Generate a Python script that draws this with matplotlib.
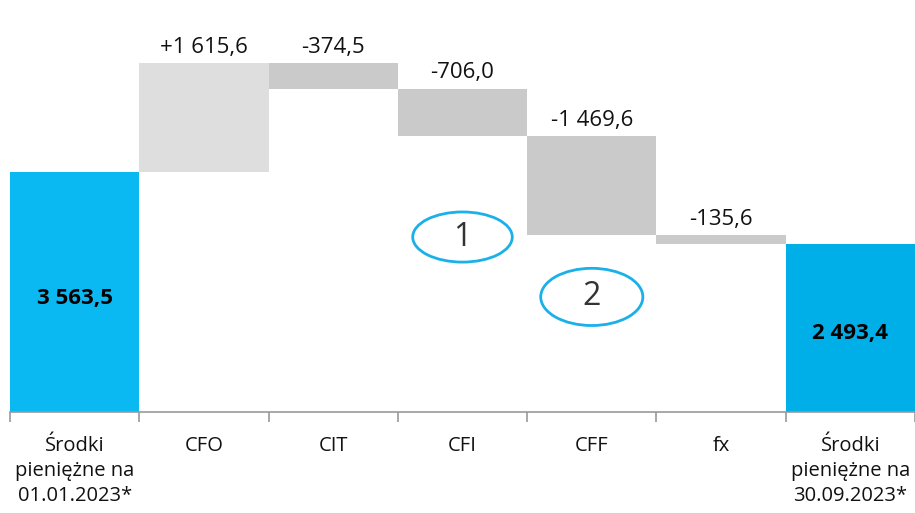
import matplotlib
matplotlib.use("Agg")
import matplotlib.pyplot as plt
from matplotlib.patches import Ellipse

plt.rcParams["font.family"] = ["Open Sans", "DejaVu Sans"]

categories = ["Środki\npieniężne na\n01.01.2023*", "CFO", "CIT", "CFI", "CFF", "fx",
              "Środki\npieniężne na\n30.09.2023*"]
start_value = 3563.5
changes = [1615.6, -374.5, -706.0, -1469.6, -135.6]
end_value = 2493.4
change_labels = ["+1 615,6", "-374,5", "-706,0", "-1 469,6", "-135,6"]
total_labels = ["3 563,5", "2 493,4"]
markers = [("1", 3.0, 2600, 0.77, 745), ("2", 4.0, 1710, 0.79, 850)]

BLUE_START = "#0ab9f1"
BLUE_END = "#00aee8"
GREY_UP = "#dedede"
GREY_DOWN = "#cacaca"


def main():
    fig = plt.figure(figsize=(9.15, 5.13), dpi=100)
    ax = fig.add_axes([10 / 915, 101 / 513, 905 / 915, 412 / 513])

    x = list(range(len(categories)))
    ax.bar(x[0], start_value, width=1.0, color=BLUE_START)
    ax.text(x[0], start_value / 2 - 90, total_labels[0], ha="center", va="center",
            fontsize=16, fontweight="bold", color="black")

    level = start_value
    for i, (d, lab) in enumerate(zip(changes, change_labels), start=1):
        bottom = level if d >= 0 else level + d
        ax.bar(x[i], abs(d), bottom=bottom, width=1.0,
               color=GREY_UP if d >= 0 else GREY_DOWN)
        top = bottom + abs(d)
        ax.annotate(lab, (x[i], top), xytext=(0, 4), textcoords="offset points",
                    ha="center", va="bottom", fontsize=16, color="#111111")
        level += d

    ax.bar(x[-1], end_value, width=1.0, color=BLUE_END)
    ax.text(x[-1], end_value / 2 - 80, total_labels[1], ha="center", va="center",
            fontsize=16, fontweight="bold", color="black")

    for txt, mx, my, ew, eh in markers:
        ax.add_patch(Ellipse((mx, my), ew, eh, fill=False, edgecolor="#1ab0e8",
                             linewidth=2, zorder=5))
        ax.text(mx, my, txt, ha="center", va="center", fontsize=23, color="#333333")

    ax.set_xlim(-0.5, len(categories) - 0.5)
    ax.set_ylim(0, 6122)
    for s in ["top", "right", "left"]:
        ax.spines[s].set_visible(False)
    ax.spines["bottom"].set_color("#9a9a9a")
    ax.spines["bottom"].set_linewidth(1.2)
    ax.set_yticks([])

    ax.set_xticks([i - 0.5 for i in range(len(categories) + 1)], minor=False)
    ax.set_xticklabels([])
    ax.tick_params(axis="x", which="major", length=7, color="#9a9a9a", width=1.2)
    ax.set_xticks(x, minor=True)
    ax.set_xticklabels(categories, minor=True, fontsize=14.5, color="#111111",
                       linespacing=1.33)
    ax.tick_params(axis="x", which="minor", length=0, pad=17)

    fig.savefig("out.png", dpi=100)


if __name__ == "__main__":
    main()
